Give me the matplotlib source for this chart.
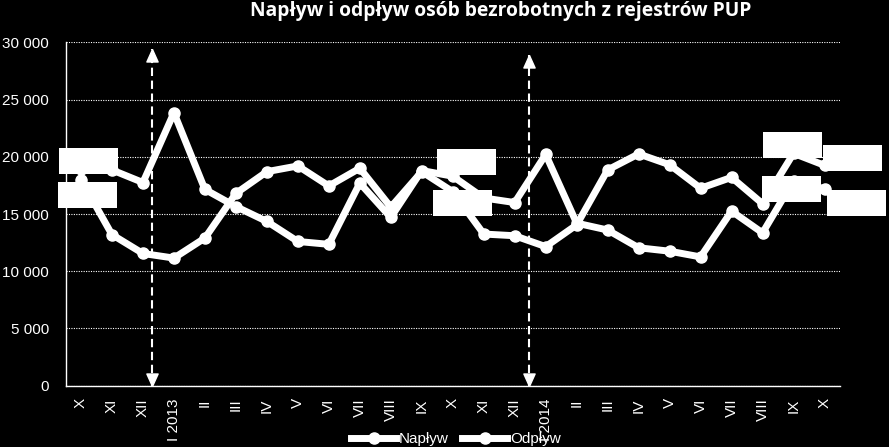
import matplotlib
matplotlib.use("Agg")
import matplotlib.pyplot as plt
from matplotlib.patches import Rectangle
from matplotlib.transforms import IdentityTransform

plt.rcParams['font.family'] = ['Liberation Sans', 'DejaVu Sans']

categories = ["X", "XI", "XII", "I 2013", "II", "III", "IV", "V", "VI", "VII", "VIII", "IX",
              "X", "XI", "XII", "I 2014", "II", "III", "IV", "V", "VI", "VII", "VIII", "IX", "X"]
naplyw = [18900, 18850, 17750, 23850, 17150, 15650, 14350, 12600, 12350, 17700, 14700, 18800,
          18300, 16400, 16000, 20200, 14200, 13600, 12050, 11750, 11250, 15250, 13350, 17900, 17200]
odplyw = [18000, 13200, 11550, 11150, 12900, 16800, 18700, 19200, 17450, 19000, 15600, 18700,
          16950, 13250, 13100, 12150, 14050, 18850, 20250, 19300, 17250, 18200, 15900, 20300, 19250]
yticks = [0, 5000, 10000, 15000, 20000, 25000, 30000]
ytick_labels = ["0", "5 000", "10 000", "15 000", "20 000", "25 000", "30 000"]
title = "Napływ i odpływ osób bezrobotnych z rejestrów PUP"
series_names = ["Napływ", "Odpływ"]

W, H = 889, 447
fig = plt.figure(figsize=(W / 100, H / 100), dpi=100, facecolor='black')
ax = fig.add_axes([65.5 / W, (H - 385.7) / H, (840 - 65.5) / W, (385.7 - 42.3) / H])
ax.set_facecolor('black')

x = list(range(len(categories)))
ax.set_xlim(-0.5, len(categories) - 0.5)
ax.set_ylim(0, 30000)

ax.set_yticks(yticks)
ax.set_yticklabels(ytick_labels)
ax.set_xticks(x)
ax.set_xticklabels(categories, rotation=90)
ax.tick_params(axis='y', length=0, pad=12, labelsize=11, labelcolor='white')
ax.tick_params(axis='x', length=0, pad=9, labelsize=11, labelcolor='white')

ax.yaxis.grid(True, color='white', linestyle=(0, (1, 1.2)), linewidth=0.8)
ax.set_axisbelow(True)
for s in ['top', 'right']:
    ax.spines[s].set_visible(False)
for s in ['left', 'bottom']:
    ax.spines[s].set_color('white')
    ax.spines[s].set_linewidth(1.0)

# Dashed double-headed arrows marking year boundaries
arrow_specs = [(2.29, 29400), (14.45, 28900)]
up_head = [(0, 0), (-0.45, -1), (0.45, -1), (0, 0)]
down_head = [(0, 0), (-0.45, 1), (0.45, 1), (0, 0)]
for ax_x, top in arrow_specs:
    ax.plot([ax_x, ax_x], [0, top], color='white', lw=1.5, linestyle=(0, (4, 2.2)), zorder=2)
    ax.plot([ax_x], [top], marker=up_head, ms=18, color='white', mec='white', lw=0, zorder=2)
    ax.plot([ax_x], [0], marker=down_head, ms=18, color='white', mec='white', lw=0, zorder=2,
            clip_on=False)

l1, = ax.plot(x, naplyw, color='white', lw=5, marker='o', ms=8, label=series_names[0], zorder=3,
              solid_joinstyle='round')
l2, = ax.plot(x, odplyw, color='white', lw=5, marker='o', ms=8, label=series_names[1], zorder=3,
              solid_joinstyle='round')

# White data-label boxes (white text on white fill)
box_w, box_h = 59, 26
label_specs = [
    (naplyw, 0, 8, 8), (odplyw, 0, 7, -15),
    (naplyw, 12, 14, 14.5), (odplyw, 12, 9.5, -11),
    (odplyw, 23, -1.5, 8.6), (naplyw, 23, -2.5, -8),
    (odplyw, 24, 28, 7), (naplyw, 24, 31.5, -14.5),
]
for series, i, dx, dy in label_specs:
    px, py = ax.transData.transform((i, series[i]))
    cx, cy = px + dx, py + dy
    fig.add_artist(Rectangle((cx - box_w / 2, cy - box_h / 2), box_w, box_h,
                             transform=IdentityTransform(), facecolor='white',
                             edgecolor='none', zorder=5))
    fig.text(cx / W, cy / H, f"{series[i]:,}".replace(",", " "), color='white',
             ha='center', va='center', fontsize=10, zorder=6)

fig.text(501 / W, 1 - 16 / H, title, color='white', fontsize=13.9, fontweight='bold',
         family=['Open Sans', 'DejaVu Sans'], ha='center', va='baseline')

leg = fig.legend(handles=[l1, l2], loc='center', bbox_to_anchor=(456 / W, 8 / H), ncol=2,
                 frameon=False, fontsize=11, handlelength=2.9, handletextpad=0.2,
                 columnspacing=0.9, labelcolor='white', borderpad=0)
for h in leg.legend_handles:
    h.set_linewidth(5)

fig.savefig("out.png", dpi=100, facecolor='black')
